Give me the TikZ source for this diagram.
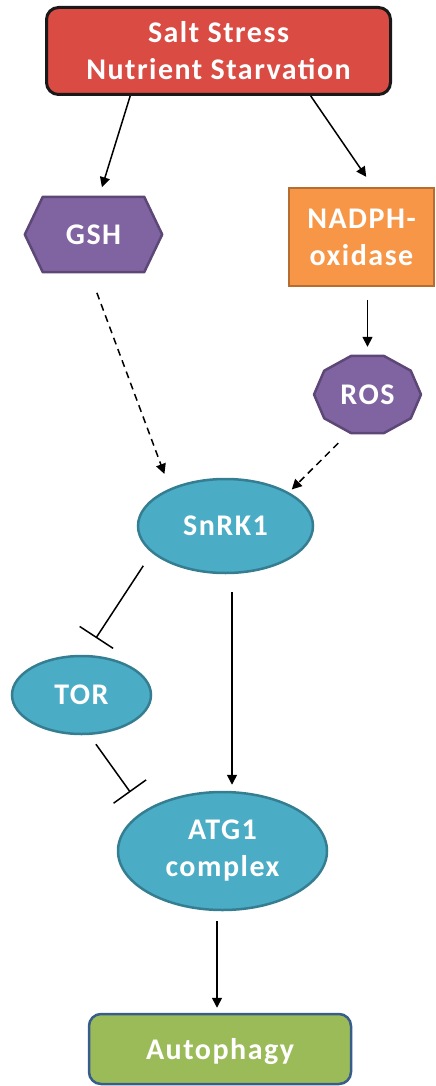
\documentclass[tikz,border=0pt]{standalone}
\usepackage{fontspec}
\setmainfont{Carlito}[LetterSpace=5]
\usetikzlibrary{arrows.meta,shapes.geometric,backgrounds}

\definecolor{saltred}{RGB}{217,75,67}
\definecolor{purplefill}{RGB}{128,100,162}
\definecolor{purpleline}{RGB}{92,71,118}
\definecolor{nadphorange}{RGB}{247,150,70}
\definecolor{orangeline}{RGB}{182,109,49}
\definecolor{tealfill}{RGB}{75,172,198}
\definecolor{tealline}{RGB}{53,126,146}
\definecolor{greenfill}{RGB}{155,187,89}
\definecolor{greenline}{RGB}{56,93,138}

\begin{document}
\begin{tikzpicture}[x=1pt,y=-1pt,
  every node/.style={font=\fontsize{30}{37}\selectfont\bfseries, text=white, align=center, inner sep=0pt},
  saltbox/.style={draw=black!90, line width=3pt, fill=saltred, rounded corners=12pt},
  orangebox/.style={draw=orangeline, line width=2.5pt, fill=nadphorange},
  tealell/.style={ellipse, draw=tealline, line width=2.5pt, fill=tealfill},
  greenbox/.style={draw=greenline, line width=2.5pt, fill=greenfill, rounded corners=12pt},
  purpleshape/.style={draw=purpleline, line width=2.5pt, fill=purplefill, line join=round},
  arr/.style={line width=1.5pt, -{Triangle[length=10pt,width=10pt]}},
  dasharr/.style={arr, dash pattern=on 7pt off 5pt},
  inhib/.style={line width=1.5pt, -{Bar[width=40pt,line width=1.5pt]}}]

\useasboundingbox (0,0) rectangle (436,1086);

% Box: stresses
\node[saltbox, minimum width=344pt, minimum height=87pt] (salt) at (218.5,51) {Salt Stress\\Nutrient Starvation};
% Hexagon: GSH
\node[minimum width=137pt, minimum height=75pt] (gsh) at (93.5,234.5) {GSH};
% Box: NADPH-oxidase
\node[orangebox, minimum width=145pt, minimum height=98pt] (nadph) at (361.5,237) {NADPH-\\oxidase};
% Decagon: ROS
\node[minimum width=107pt, minimum height=77pt] (ros) at (367.5,394.5) {ROS};
% Ellipses
\node[tealell, minimum width=175pt, minimum height=94pt] (snrk) at (225.5,526) {SnRK1};
\node[tealell, minimum width=139pt, minimum height=78pt] (tor) at (81.5,695) {TOR};
\node[tealell, minimum width=209pt, minimum height=118pt] (atg) at (222.5,851) {ATG1\\complex};
% Box: Autophagy
\node[greenbox, minimum width=262pt, minimum height=70pt, text depth=0pt] (auto) at (220,1049) {Autophagy};

\begin{scope}[on background layer]
\draw[purpleshape] (gsh.west) -- ([xshift=18pt]gsh.north west) -- ([xshift=-18pt]gsh.north east) -- (gsh.east) -- ([xshift=-18pt]gsh.south east) -- ([xshift=18pt]gsh.south west) -- cycle;
\draw[purpleshape, shift={(ros.center)}] plot[samples at={0,36,...,324}, variable=\a] ({53.5*cos(\a)},{40.5*sin(\a)}) -- cycle;
\end{scope}

% Connectors
\draw[arr, shorten >=10pt] (salt.207) -- ([xshift=5.5pt]gsh.north);
\draw[arr, shorten >=12pt] (salt.334) -- ([xshift=11.5pt]nadph.north);
\draw[dasharr, shorten <=22pt, shorten >=15.5pt] ([xshift=-4.3pt]gsh.south) -- (snrk.146);
\draw[arr, shorten <=13pt, shorten >=9pt] (nadph.south -| ros.north) -- (ros.north);
\draw[dasharr, shorten <=14pt, shorten >=4pt] ([xshift=-19.3pt]ros.south) -- (snrk.28);
\draw[inhib, shorten <=15.5pt, shorten >=20pt] (snrk.200) -- ([xshift=3.5pt]tor.north);
\draw[inhib, shorten <=11pt, shorten >=23pt] ([xshift=8pt]tor.south) -- (atg.153);
\draw[arr, shorten <=18pt, shorten >=6pt] ([xshift=6.5pt]snrk.south) -- ([xshift=9.5pt]atg.north);
\draw[arr, shorten <=10pt, shorten >=5pt] ([xshift=-5.5pt]atg.south) -- ([xshift=-3pt]auto.north);
\end{tikzpicture}
\end{document}
